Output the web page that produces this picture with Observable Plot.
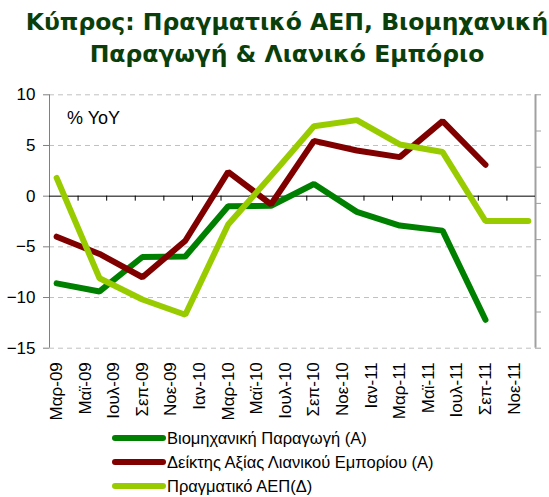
<!DOCTYPE html>
<html>
<head>
<meta charset="utf-8">
<script src="https://cdn.jsdelivr.net/npm/d3@7"></script>
<script src="https://cdn.jsdelivr.net/npm/@observablehq/plot@0.6"></script>
<style>
  html, body { margin: 0; padding: 0; background: #fff; }
  #wrap { width: 549px; height: 497px; overflow: hidden; position: relative; }
  #title { height: 80px; box-sizing: border-box; padding: 6px 0 0 25px; text-align: center;
    font-family: "DejaVu Sans", Verdana, sans-serif; font-weight: bold; font-size: 23.5px;
    line-height: 32px; color: #0a3f0a; white-space: nowrap; }
  #legend { font-family: "Liberation Sans", Arial, sans-serif; font-size: 16.5px; color: #000; }
  .row { height: 24px; line-height: 24px; display: flex; align-items: center; padding-left: 112px; }
  .sw { display: inline-block; width: 54px; height: 6px; border-radius: 3px; margin-right: 1px; }
  svg { display: block; }
</style>
</head>
<body>
<div id="wrap">
  <div id="title">Κύπρος: Πραγματικό ΑΕΠ, Βιομηχανική<br>Παραγωγή &amp; Λιανικό Εμπόριο</div>
  <div id="chart"></div>
  <div id="legend"></div>
</div>
<script>
// Quarterly observations (Mar-09 ... Dec-11)
const quarters = ["Μαρ-09","Ιουν-09","Σεπ-09","Δεκ-09","Μαρ-10","Ιουν-10","Σεπ-10","Δεκ-10","Μαρ-11","Ιουν-11","Σεπ-11","Δεκ-11"];
const industrial = [-8.6, -9.4, -6.0, -5.95, -1.0, -0.95, 1.2, -1.55, -2.9, -3.4, -12.2, null];
const retail     = [-4.0, -5.7, -8.0, -4.4, 2.4, -0.8, 5.45, 4.5, 3.85, 7.4, 3.1, null];
const gdp        = [1.8, -8.1, -10.2, -11.7, -2.8, 2.0, 6.9, 7.5, 5.1, 4.35, -2.45, -2.45];

// Bimonthly axis labels
const monthLabels = ["Μαρ-09","Μαϊ-09","Ιουλ-09","Σεπ-09","Νοε-09","Ιαν-10","Μαρ-10","Μαϊ-10","Ιουλ-10","Σεπ-10","Νοε-10","Ιαν-11","Μαρ-11","Μαϊ-11","Ιουλ-11","Σεπ-11","Νοε-11"];
const yTicks = [-15, -10, -5, 0, 5, 10];

const seriesNames = ["Βιομηχανική Παραγωγή (Α)", "Δείκτης Αξίας Λιανικού Εμπορίου (Α)", "Πραγματικό ΑΕΠ(Δ)"];
const seriesColors = ["#008000", "#800000", "#99cc00"];
const seriesValues = [industrial, retail, gdp];

// months since Mar-09; each observation sits mid-month of the quarter's last month
const nMonths = monthLabels.length * 2;
const rows = [];
seriesValues.forEach((vals, s) => {
  vals.forEach((v, i) => {
    if (v != null) rows.push({series: seriesNames[s], q: quarters[i], m: i * 3 + 0.5, v});
  });
});
const labelRows = monthLabels.map((l, i) => ({l, m: i * 2 + 0.5}));
const boundaries = monthLabels.map((_, i) => i * 2).slice(1);
const gridVals = yTicks.filter(d => d !== 0);
const rightTicks = d3.range(8).map(k => yTicks[0] + k * (yTicks[yTicks.length-1] - yTicks[0]) / 7);

const chart = Plot.plot({
  width: 549,
  height: 346,
  marginLeft: 49,
  marginRight: 14,
  marginTop: 14.3,
  marginBottom: 78.3,
  style: {fontFamily: "Liberation Sans, Arial, sans-serif", fontSize: "17px", color: "#000", background: "#fff"},
  x: {domain: [0, nMonths], axis: null},
  y: {domain: [yTicks[0], yTicks[yTicks.length-1]], axis: null},
  color: {domain: seriesNames, range: seriesColors},
  marks: [
    Plot.ruleY(gridVals, {stroke: "#c0c0c0", strokeDasharray: "5,4", strokeWidth: 1}),
    Plot.ruleX([0], {stroke: "#808080", strokeWidth: 1}),
    Plot.ruleX([nMonths], {stroke: "#a0a0a0", strokeWidth: 2}),
    Plot.ruleY(rightTicks, {x1: nMonths, x2: nMonths, insetRight: -6, stroke: "#a0a0a0", strokeWidth: 1}),
    Plot.axisY({ticks: yTicks, tickSize: 6, tickPadding: 8, fontSize: 17, stroke: "#808080", color: "#000", label: null}),
    Plot.ruleY([0], {stroke: "#000", strokeWidth: 1}),
    Plot.ruleX(boundaries, {y1: 0, y2: 0, insetBottom: -5, stroke: "#000", strokeWidth: 1}),
    Plot.text(labelRows, {x: "m", frameAnchor: "bottom", text: "l", rotate: -90, textAnchor: "end", lineAnchor: "middle", dy: 14, fontSize: 17, fill: "#000"}),
    Plot.text(["% YoY"], {frameAnchor: "top-left", textAnchor: "start", lineAnchor: "middle", dx: 17.5, dy: 23.5, fontSize: 18, fill: "#000"}),
    Plot.line(rows, {x: "m", y: "v", z: "series", stroke: "series", strokeWidth: 6, strokeLinecap: "round", strokeLinejoin: "miter"})
  ]
});
document.getElementById("chart").appendChild(chart);

const legend = document.getElementById("legend");
seriesNames.forEach((n, i) => {
  const r = document.createElement("div");
  r.className = "row";
  const sw = document.createElement("span");
  sw.className = "sw";
  sw.style.background = seriesColors[i];
  const t = document.createElement("span");
  t.textContent = n;
  r.appendChild(sw); r.appendChild(t);
  legend.appendChild(r);
});
</script>
</body>
</html>
